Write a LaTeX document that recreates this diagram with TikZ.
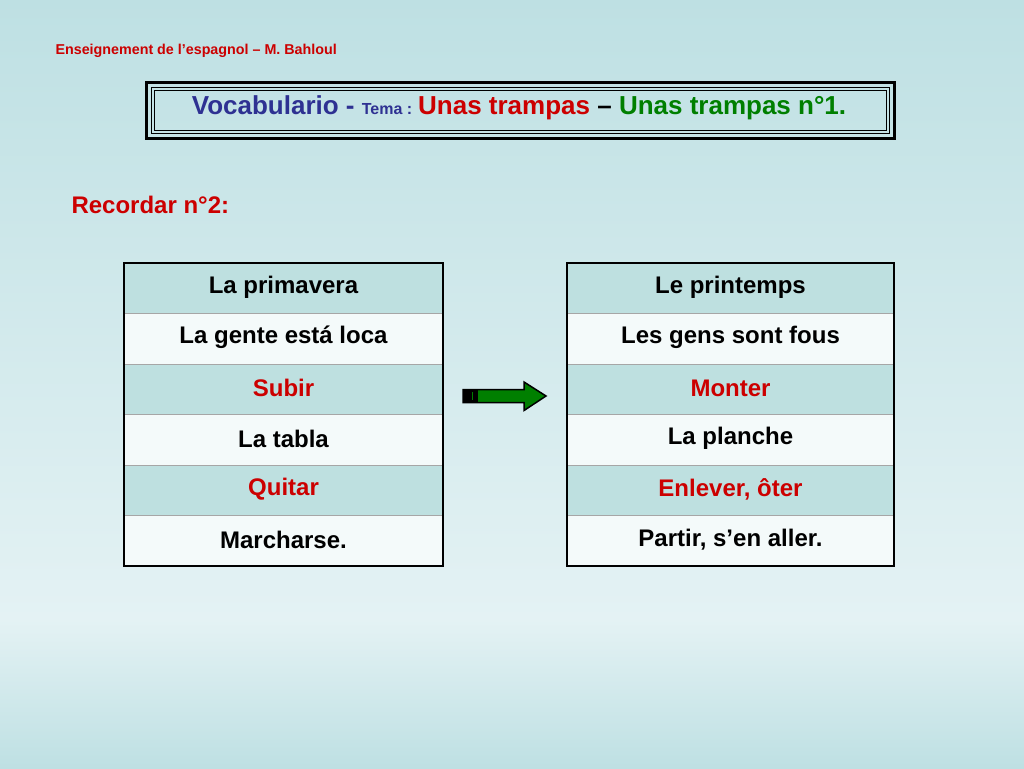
\documentclass[tikz,border=0pt]{standalone}
\usepackage{fontspec}
\setmainfont{Liberation Sans}
\definecolor{bgtop}{HTML}{BEE0E3}
\definecolor{bgmid}{HTML}{E4F2F4}
\definecolor{cell}{HTML}{BEE0E0}
\definecolor{cellw}{HTML}{F4FAFA}
\definecolor{tblue}{HTML}{2E3192}
\definecolor{tred}{HTML}{CC0000}
\definecolor{tgreen}{HTML}{007F00}
\begin{document}
\begin{tikzpicture}[x=1pt,y=-1pt,
  txt/.style={font=\bfseries\fontsize{24}{26}\selectfont},
  rowA/.style={fill=cell,draw=gray!70,line width=1pt},
  rowB/.style={fill=cellw,draw=gray!70,line width=1pt}]
\useasboundingbox (0,0) rectangle (1024,768);
\shade[top color=bgtop,bottom color=bgmid] (0,0) rectangle (1024,620);
\shade[top color=bgmid,bottom color=bgtop] (0,620) rectangle (1024,768);
\node[anchor=west,text=tred,font=\bfseries\fontsize{14.3}{16}\selectfont] (hdr) at (52,51) {Enseignement de l’espagnol – M. Bahloul};
% title frame
\draw[line width=3pt] (146,82) rectangle (894,138);
\draw[line width=1pt] (151,87) rectangle (889,133);
\draw[line width=1pt] (154,90) rectangle (886,130);
\node[font=\bfseries\fontsize{26}{28}\selectfont] (title) at (519,108) {\textcolor{tblue}{Vocabulario - }\textcolor{tblue}{\fontsize{16}{18}\selectfont Tema : }\textcolor{tred}{Unas trampas}\textcolor{black}{\ – }\textcolor{tgreen}{Unas trampas n°1.}};
\node[anchor=west,text=tred,font=\bfseries\fontsize{24}{26}\selectfont] (rec) at (68,205) {Recordar n°2:};
% tables
\foreach \x/\w [count=\t] in {124/319,567/327}{
  \foreach \i in {0,...,5}{
    \pgfmathsetmacro\ya{263+50.5*\i}
    \pgfmathsetmacro\yb{263+50.5*(\i+1)}
    \ifodd\i \draw[rowB] (\x,\ya) rectangle (\x+\w,\yb);
    \else \draw[rowA] (\x,\ya) rectangle (\x+\w,\yb); \fi
  }
  \draw[line width=2.5pt] (\x,263) rectangle (\x+\w,566);
}
\foreach \txt/\c [count=\i from 0] in {La primavera/black,La gente está loca/black,Subir/tred,La tabla/black,Quitar/tred,Marcharse./black}{
  \node[txt,text=\c] (L\i) at (283.5,287+50.5*\i) {\txt};
}
\foreach \txt/\c [count=\i from 0] in {Le printemps/black,Les gens sont fous/black,Monter/tred,La planche/black,{Enlever, ôter}/tred,{Partir, s’en aller.}/black}{
  \node[txt,text=\c] (R\i) at (730.5,287+50.5*\i) {\txt};
}
% arrow
\draw[fill=tgreen,line width=1.5pt,line join=miter] (463,389.5) -- (524,389.5) -- (524,382) -- (546,396) -- (524,410.5) -- (524,402.5) -- (463,402.5) -- cycle;
\fill (463,389.5) rectangle (478,402.5);
\draw[tgreen,line width=1pt] (472,392) -- (472,400);
\end{tikzpicture}
\end{document}
